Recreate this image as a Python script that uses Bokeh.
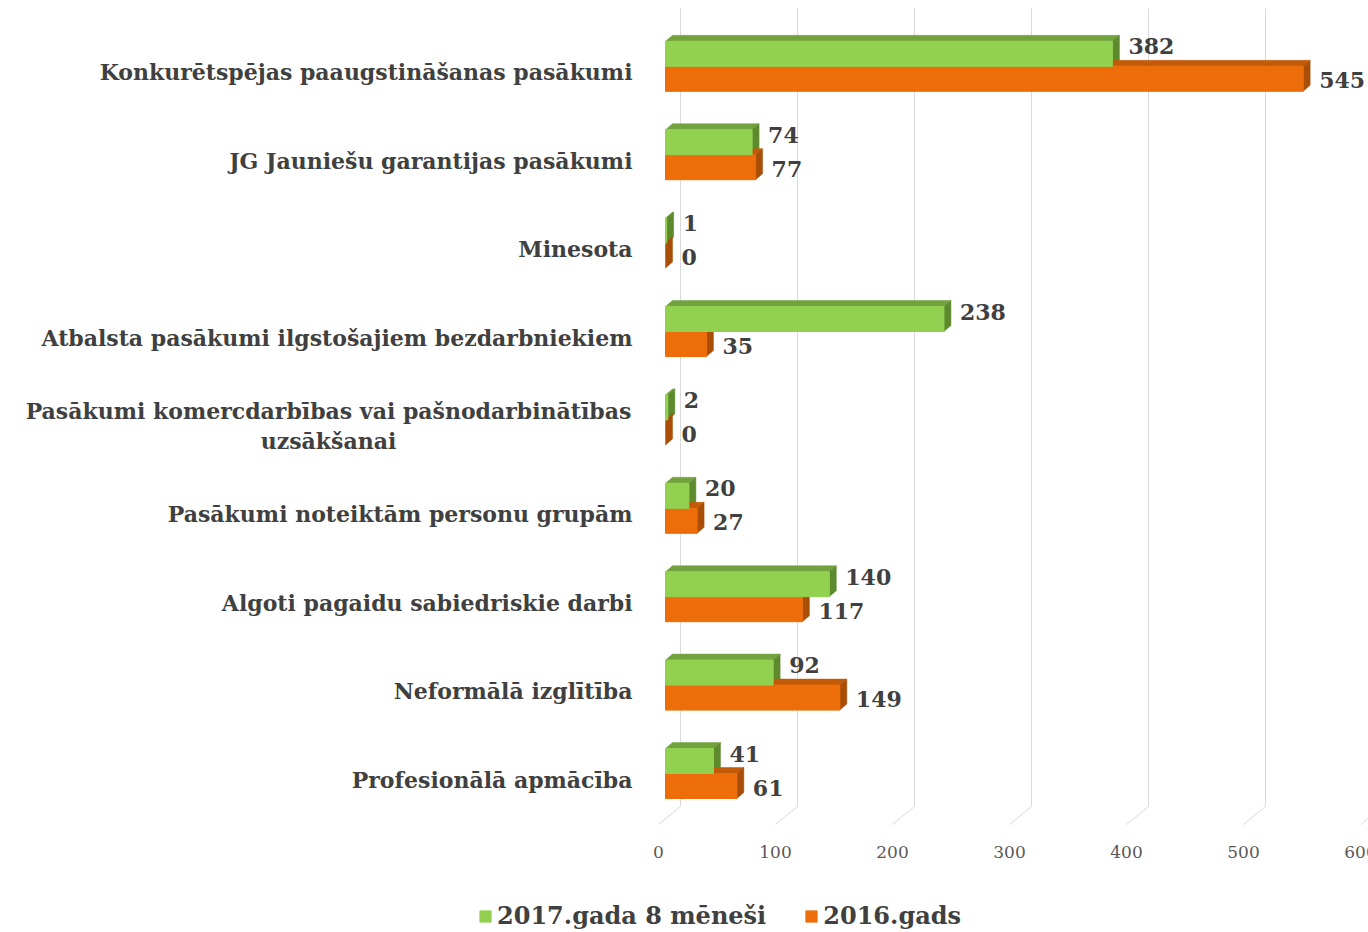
from bokeh.plotting import figure
from bokeh.models import Range1d, Legend, LegendItem
from bokeh.core.properties import value
from bokeh.embed import file_html
from bokeh.resources import INLINE

# ---- data (top to bottom as in the chart) ----
categories = [
    "Konkurētspējas paaugstināšanas pasākumi",
    "JG Jauniešu garantijas pasākumi",
    "Minesota",
    "Atbalsta pasākumi ilgstošajiem bezdarbniekiem",
    "Pasākumi komercdarbības vai pašnodarbinātības\nuzsākšanai",
    "Pasākumi noteiktām personu grupām",
    "Algoti pagaidu sabiedriskie darbi",
    "Neformālā izglītība",
    "Profesionālā apmācība",
]
series_2017 = [382, 74, 1, 238, 2, 20, 140, 92, 41]
series_2016 = [545, 77, 0, 35, 0, 27, 117, 149, 61]
series_names = ["2017.gada 8 mēneši", "2016.gads"]
x_ticks = [0, 100, 200, 300, 400, 500, 600]

# ---- layout constants (pixels) ----
W, H = 1368, 932
KX = 1.17          # px per value unit
KY = 88.4          # px per category step
X0_PAGE = 665      # x of value 0 (front)
C0_PAGE = 773      # y of bottom category centre
LABEL_RIGHT = 632  # right edge of category labels
WRAP_CENTER = 328  # centre of wrapped category label lines

def px_x(p):
    return p / KX

def px_y(p):
    return p / KY

x_start = -X0_PAGE / KX
x_end = x_start + W / KX
y_end = C0_PAGE / KY
y_start = y_end - H / KY

p = figure(width=W, height=H, output_backend="svg", toolbar_location=None,
           x_range=Range1d(x_start, x_end), y_range=Range1d(y_start, y_end),
           min_border=0, outline_line_color=None)
p.xaxis.visible = False
p.yaxis.visible = False
p.xgrid.visible = False
p.ygrid.visible = False
p.background_fill_color = "white"
p.border_fill_color = "white"

n = len(categories)
centers = [n - 1 - i for i in range(n)]

# ---- 3D grid (back wall lines + floor) ----
back = px_x(15)
front = px_x(-7)
floor_back_y = (C0_PAGE - 806) / KY
floor_front_y = (C0_PAGE - 824) / KY
wall_top = (C0_PAGE - 8) / KY
gx0, gx1, gy0, gy1 = [], [], [], []
for t in x_ticks:
    gx0 += [t + back, t + back]
    gx1 += [t + back, t + front]
    gy0 += [wall_top, floor_back_y]
    gy1 += [floor_back_y, floor_front_y]
p.segment(x0=gx0, y0=gy0, x1=gx1, y1=gy1, line_color="#d9d9d9", line_width=1)

# tick labels
p.text(x=[t + front for t in x_ticks], y=[(C0_PAGE - 851) / KY] * len(x_ticks),
       text=[str(t) for t in x_ticks], text_align="center", text_baseline="middle",
       text_font=value("DejaVu Serif"), text_font_size="17px", text_color="#595959")

# ---- 3D bars ----
BH = px_y(25)
DX = px_x(7)
DY = px_y(6)

def faces(vals, bottoms):
    tops_x, tops_y, side_x, side_y = [], [], [], []
    for v, b in zip(vals, bottoms):
        t = b + BH
        tops_x.append([0, v, v + DX, DX])
        tops_y.append([t, t, t + DY, t + DY])
        side_x.append([v, v, v + DX, v + DX])
        side_y.append([b, t, t + DY, b + DY])
    return tops_x, tops_y, side_x, side_y

g_bottom = list(centers)
o_bottom = [c - BH for c in centers]
gtx, gty, gsx, gsy = faces(series_2017, g_bottom)
otx, oty, osx, osy = faces(series_2016, o_bottom)

G_FRONT, G_TOP, G_SIDE = "#92D050", "#72A23E", "#5E8A2E"
O_FRONT, O_TOP, O_SIDE = "#EC6D0A", "#C25A08", "#A94E07"

p.patches(xs=gtx, ys=gty, fill_color=G_TOP, line_color=G_TOP, line_width=0.5)
p.patches(xs=gsx, ys=gsy, fill_color=G_SIDE, line_color=G_SIDE, line_width=0.5)
p.patches(xs=otx, ys=oty, fill_color=O_TOP, line_color=O_TOP, line_width=0.5)
p.patches(xs=osx, ys=osy, fill_color=O_SIDE, line_color=O_SIDE, line_width=0.5)
r_o = p.quad(left=[0] * n, right=series_2016, bottom=o_bottom,
             top=[b + BH for b in o_bottom], fill_color=O_FRONT, line_color=O_FRONT)
r_g = p.quad(left=[0] * n, right=series_2017, bottom=g_bottom,
             top=[b + BH for b in g_bottom], fill_color=G_FRONT, line_color=G_FRONT)

# ---- value labels ----
lab_dx = px_x(16)
val_style = dict(text_align="left", text_baseline="middle",
                 text_font=value("DejaVu Serif"), text_font_style="bold",
                 text_font_size="22px", text_color="#404040")
p.text(x=[v + lab_dx for v in series_2017], y=[c + px_y(20) for c in centers],
       text=[str(v) for v in series_2017], **val_style)
p.text(x=[v + lab_dx for v in series_2016], y=[c - px_y(14) for c in centers],
       text=[str(v) for v in series_2016], **val_style)

# ---- category labels ----
cat_style = dict(text_baseline="middle", text_font=value("DejaVu Serif"),
                 text_font_style="bold", text_font_size="22px", text_color="#404040")
single_t, single_y, wrap_t, wrap_y = [], [], [], []
for c, lab in zip(centers, categories):
    if "\n" in lab:
        wrap_t.append(lab)
        wrap_y.append(c - px_y(6))
    else:
        single_t.append(lab)
        single_y.append(c - px_y(6))
p.text(x=[px_x(LABEL_RIGHT - X0_PAGE)] * len(single_t), y=single_y, text=single_t,
       text_align="right", **cat_style)
p.text(x=[px_x(WRAP_CENTER - X0_PAGE)] * len(wrap_t), y=wrap_y, text=wrap_t,
       text_align="center", text_line_height=1.15, **cat_style)

# ---- legend ----
legend = Legend(items=[LegendItem(label=series_names[0], renderers=[r_g]),
                       LegendItem(label=series_names[1], renderers=[r_o])],
                orientation="horizontal", location=(478, 2),
                glyph_width=14, glyph_height=14, label_standoff=5, spacing=38,
                padding=0, margin=0, border_line_color=None,
                background_fill_alpha=0,
                label_text_font="DejaVu Serif", label_text_font_style="bold",
                label_text_font_size="24px", label_text_color="#404040")
p.add_layout(legend, "center")

open("out.html", "w").write(file_html(p, INLINE))
